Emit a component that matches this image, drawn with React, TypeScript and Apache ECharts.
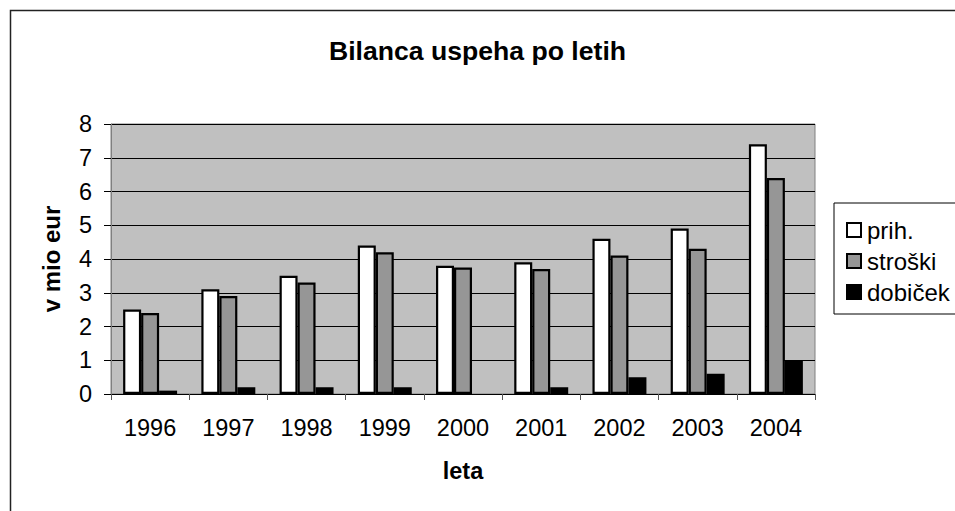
import React, { useEffect, useRef } from "react";
import * as echarts from "echarts";

const years = ["1996", "1997", "1998", "1999", "2000", "2001", "2002", "2003", "2004"];
const prihodki = [2.5, 3.1, 3.5, 4.4, 3.8, 3.9, 4.6, 4.9, 7.4];
const stroski = [2.4, 2.9, 3.3, 4.2, 3.75, 3.7, 4.1, 4.3, 6.4];
const dobicek = [0.1, 0.2, 0.2, 0.2, 0, 0.2, 0.5, 0.6, 1.0];

const FONT = "'Liberation Sans', Arial, sans-serif";

const withZeroHidden = (arr: number[]) =>
  arr.map((v) => (v === 0 ? { value: v, itemStyle: { borderWidth: 0 } } : v));

export default function App() {
  const ref = useRef<HTMLDivElement>(null);
  useEffect(() => {
    if (!ref.current) return;
    const chart = echarts.init(ref.current, null, { renderer: "svg" });
    const barStyle = (color: string) => ({
      color,
      borderColor: "#000",
      borderWidth: 2.2,
    });
    chart.setOption({
      animation: false,
      backgroundColor: "#fff",
      textStyle: { fontFamily: FONT, color: "#000" },
      title: {
        text: "Bilanca uspeha po letih",
        left: "center",
        top: 32,
        textStyle: { fontFamily: FONT, fontSize: 26.6, fontWeight: "bold", color: "#000" },
      },
      graphic: [
        {
          type: "rect",
          shape: { x: 10.5, y: 10.5, width: 1000, height: 600 },
          style: { fill: "none", stroke: "#222", lineWidth: 1.5 },
          silent: true,
          z: -1,
        },
      ],
      legend: {
        orient: "vertical",
        left: 834,
        top: 203,
        padding: [15, 6, 10, 12],
        itemGap: 7,
        itemWidth: 14,
        itemHeight: 14,
        icon: "rect",
        borderColor: "#000",
        borderWidth: 1,
        backgroundColor: "#fff",
        textStyle: { fontFamily: FONT, fontSize: 24, color: "#000", padding: [0, 0, 0, 1] },
        data: ["prih.", "stroški", "dobiček"],
        itemStyle: { borderColor: "#000", borderWidth: 2 },
      },
      grid: {
        left: 111,
        top: 124,
        width: 704,
        height: 270,
        show: true,
        backgroundColor: "#C0C0C0",
        borderColor: "#808080",
        borderWidth: 1,
      },
      xAxis: {
        type: "category",
        data: years,
        name: "leta",
        nameLocation: "middle",
        nameGap: 65,
        nameTextStyle: { fontFamily: FONT, fontSize: 23.5, fontWeight: "bold", color: "#000" },
        axisLine: { show: true, lineStyle: { color: "#000", width: 1 } },
        axisTick: { show: true, length: 6, alignWithLabel: false, lineStyle: { color: "#555" } },
        axisLabel: { margin: 22, fontFamily: FONT, fontSize: 23.5, color: "#000" },
        splitLine: { show: false },
      },
      yAxis: {
        type: "value",
        min: 0,
        max: 8,
        interval: 1,
        name: "v mio eur",
        nameLocation: "middle",
        nameGap: 48,
        nameRotate: 90,
        nameTextStyle: { fontFamily: FONT, fontSize: 24, fontWeight: "bold", color: "#000" },
        axisLine: { show: true, lineStyle: { color: "#808080", width: 1 } },
        axisTick: { show: true, length: 7, lineStyle: { color: "#000" } },
        axisLabel: { margin: 19, fontFamily: FONT, fontSize: 23.5, color: "#000" },
        splitLine: { show: true, lineStyle: { color: "#000", width: 1 } },
      },
      series: [
        {
          name: "prih.",
          type: "bar",
          data: withZeroHidden(prihodki),
          barGap: "0%",
          barCategoryGap: "31%",
          itemStyle: barStyle("#FFFFFF"),
        },
        {
          name: "stroški",
          type: "bar",
          data: withZeroHidden(stroski),
          barGap: "0%",
          barCategoryGap: "31%",
          itemStyle: barStyle("#969696"),
        },
        {
          name: "dobiček",
          type: "bar",
          data: withZeroHidden(dobicek),
          barGap: "0%",
          barCategoryGap: "31%",
          itemStyle: barStyle("#000000"),
        },
      ],
    });
    return () => chart.dispose();
  }, []);
  return (
    <div
      ref={ref}
      style={{ position: "fixed", left: 0, top: 0, width: 955, height: 511 }}
    />
  );
}
